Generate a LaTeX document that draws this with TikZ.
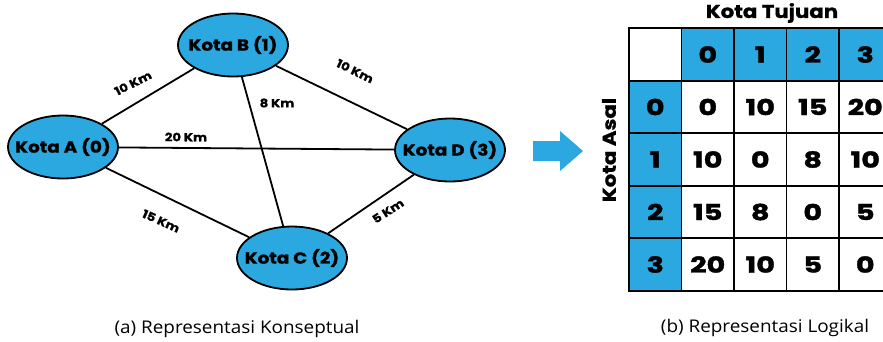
\documentclass[tikz,border=0pt]{standalone}
\usepackage{fontspec}
\setmainfont{Poppins}
\newfontfamily\capfont{Open Sans}[FakeStretch=1.08]
\newfontfamily\wideb{Poppins}[FakeStretch=1.15,BoldFeatures={FakeBold=1.2}]
\newfontfamily\widerb{Poppins}[FakeStretch=1.3,BoldFeatures={FakeBold=1.8}]
\usetikzlibrary{shapes.geometric,backgrounds}
\definecolor{kblue}{RGB}{44,168,224}
\newcommand{\cityname}[1]{\makebox[0pt]{#1}}
\begin{document}
\begin{tikzpicture}[x=1pt,y=-1pt,
  city/.style={ellipse,draw=black,line width=1.8pt,fill=kblue,minimum width=110pt,minimum height=63pt,inner sep=0pt,font=\wideb\fontsize{16}{16}\selectfont\bfseries},
  road/.style={line width=1.8pt},
  dist/.style={font=\wideb\fontsize{11.5}{12}\selectfont\bfseries,inner sep=1pt},
  cell/.style={draw=black,line width=1.8pt,minimum width=52.5pt,minimum height=52.5pt,inner sep=0pt,font=\widerb\fontsize{22}{22}\selectfont\bfseries},
  hcell/.style={cell,fill=kblue},
  ttl/.style={font=\wideb\fontsize{18.5}{19}\selectfont\bfseries},
  capt/.style={font=\capfont\fontsize{17.5}{18}\selectfont}
]
\useasboundingbox (0,0) rectangle (883,341);
% graph
\node[city] (A) at (63,147) {\cityname{Kota A (0)}};
\node[city] (B) at (233,45) {\cityname{Kota B (1)}};
\node[city] (C) at (292,258) {\cityname{Kota C (2)}};
\node[city] (D) at (450,150) {\cityname{Kota D (3)}};
\begin{scope}[on background layer]
\draw[road] (A) -- (B);
\draw[road] (B) -- (D);
\draw[road] (A) -- (D);
\draw[road] (B) -- (C);
\draw[road] (A) -- (C);
\draw[road] (C) -- (D);
\end{scope}
\node[dist,rotate=27] (lab) at (133,83) {10 Km};
\node[dist,rotate=-26] (lbd) at (355,71) {10 Km};
\node[dist] (lbc) at (277,103) {8 Km};
\node[dist] (lad) at (186,137) {20 Km};
\node[dist,rotate=-24] (lac) at (161,221) {15 Km};
\node[dist,rotate=33] (lcd) at (388,211) {5 Km};
% arrow
\fill[kblue] (533,141) -- (560,141) -- (560,131) -- (583,151) -- (560,171) -- (560,161) -- (533,161) -- cycle;
% table
\begin{scope}
\clip (600,0) rectangle (883,341);
\node[cell] (h00) at (655.25,54.5) {};
\foreach \j/\v in {1/0,2/1,3/2,4/3}{
  \node[hcell] (h0\j) at ({655.25+52.5*\j},54.5) {\v};
}
\foreach \i/\v in {1/0,2/1,3/2,4/3}{
  \node[hcell] (h\i0) at (655.25,{54.5+52.5*\i}) {\v};
}
\foreach \i/\row in {1/{0,10,15,20},2/{10,0,8,10},3/{15,8,0,5},4/{20,10,5,0}}{
  \foreach \v [count=\j] in \row {
    \node[cell] (c\i\j) at ({655.25+52.5*\j},{54.5+52.5*\i}) {\v};
  }
}
\end{scope}
\node[ttl] (tuj) at (772,13) {Kota Tujuan};
\node[ttl,rotate=90] (asal) at (609,150) {Kota Asal};
% captions
\node[capt] (capa) at (237,329) {(a) Representasi Konseptual};
\node[capt] (capb) at (765,328) {(b) Representasi Logikal};
\end{tikzpicture}
\end{document}
